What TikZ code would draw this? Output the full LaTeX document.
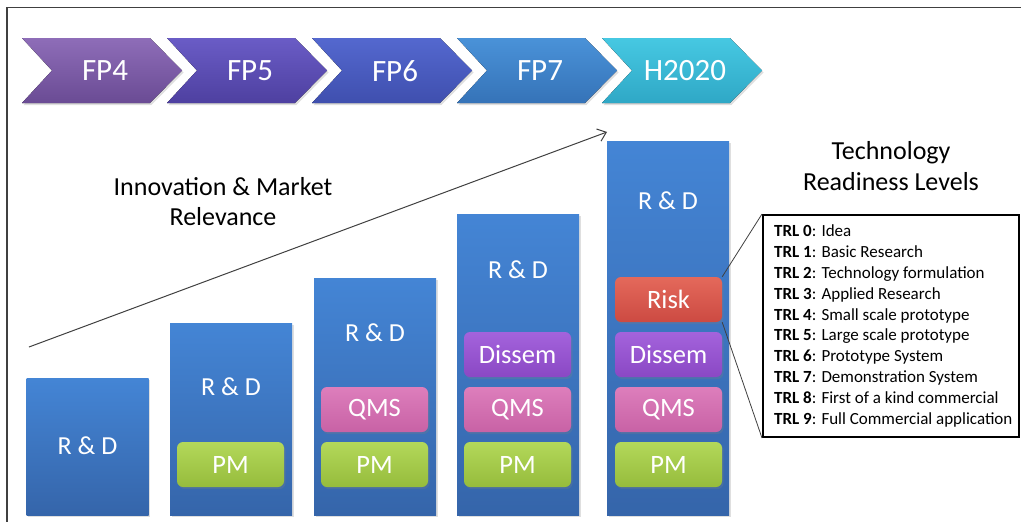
\documentclass[tikz,border=0pt]{standalone}
\usepackage{fontspec}
\setmainfont{Carlito}
\usetikzlibrary{arrows.meta,shadows,calc}
\definecolor{barT}{HTML}{4485D5}
\definecolor{barB}{HTML}{3565AA}
\definecolor{pmT}{HTML}{B3D85A}
\definecolor{pmB}{HTML}{96BC3C}
\definecolor{qmsT}{HTML}{DD7EBC}
\definecolor{qmsB}{HTML}{C862A5}
\definecolor{disT}{HTML}{A463DC}
\definecolor{disB}{HTML}{8A48C4}
\definecolor{riskT}{HTML}{E4695B}
\definecolor{riskB}{HTML}{CC4A42}
\definecolor{fpaT}{HTML}{8E6DB8}
\definecolor{fpaB}{HTML}{6A4B94}
\definecolor{fpbT}{HTML}{6A5CC6}
\definecolor{fpbB}{HTML}{4E40A0}
\definecolor{fpcT}{HTML}{5468CF}
\definecolor{fpcB}{HTML}{3F4FAE}
\definecolor{fpdT}{HTML}{4A92D8}
\definecolor{fpdB}{HTML}{3573B8}
\definecolor{fpeT}{HTML}{46C8E2}
\definecolor{fpeB}{HTML}{2FA8C6}
\definecolor{lineC}{HTML}{404040}
\newcommand{\chevshape}[6]{%
  \fill[top color=#4, bottom color=#5, softshadow]
    (#1,38) -- ({#1+128},38) -- ({#1+160},70.5) -- ({#1+128},103) -- (#1,103) -- ({#1+30},70.5) -- cycle;
  \node[chevtext] (#2) at ({#1+83},71) {#3};%
}
\begin{document}
\begin{tikzpicture}[x=1pt,y=-1pt,
  softshadow/.style={drop shadow={opacity=0.25, shadow xshift=1.5pt, shadow yshift=-2pt}},
  chevtext/.style={text=white, font=\fontsize{31}{34}\selectfont, inner sep=0pt},
  bar/.style={rectangle, top color=barT, bottom color=barB, minimum width=122pt, inner sep=0pt, softshadow},
  barlabel/.style={text=white, font=\fontsize{26}{29}\selectfont, inner sep=0pt},
  inbox/.style={rectangle, rounded corners=6pt, minimum width=107pt, minimum height=45pt, inner sep=0pt,
    text=white, font=\fontsize{26.5}{29}\selectfont, softshadow},
  pmbox/.style={inbox, top color=pmT, bottom color=pmB},
  qmsbox/.style={inbox, top color=qmsT, bottom color=qmsB},
  disbox/.style={inbox, top color=disT, bottom color=disB},
  riskbox/.style={inbox, top color=riskT, bottom color=riskB},
  frame/.style={draw=lineC, line width=1.2pt},
  callout/.style={draw=lineC, line width=0.8pt},
  arrowline/.style={draw=lineC, line width=1pt, -{Straight Barb[length=8pt,width=13pt]}},
  trlbox/.style={rectangle, draw=black, line width=2pt, fill=white, minimum width=256pt, minimum height=222pt, inner sep=0pt},
  plaintext/.style={align=center, inner sep=0pt}
]
\useasboundingbox (0,0) rectangle (1021,522);
% frame
\coordinate (f1) at (7,522);
\coordinate (f2) at (7,7.5);
\coordinate (f3) at (1021,7.5);
\draw[frame] (f1) -- (f2) -- (f3);
% chevrons
\chevshape{22}{fp4}{FP4}{fpaT}{fpaB}{}
\chevshape{167}{fp5}{FP5}{fpbT}{fpbB}{}
\chevshape{312}{fp6}{FP6}{fpcT}{fpcB}{}
\chevshape{457}{fp7}{FP7}{fpdT}{fpdB}{}
\chevshape{602}{h2020}{H2020}{fpeT}{fpeB}{}
% bars
\node[bar, minimum height=137pt] (bar1) at (87.5,446.5) {};
\node[bar, minimum height=192pt] (bar2) at (231,419) {};
\node[bar, minimum height=237pt] (bar3) at (375,396.5) {};
\node[bar, minimum height=301pt] (bar4) at (518,364.5) {};
\node[bar, minimum height=374pt] (bar5) at (668,328) {};
% R&D labels
\node[barlabel] (rd1) at (87.5,446) {R \& D};
\node[barlabel] (rd2) at (231,387) {R \& D};
\node[barlabel] (rd3) at (375,333) {R \& D};
\node[barlabel] (rd4) at (518,270) {R \& D};
\node[barlabel] (rd5) at (668,201) {R \& D};
% inner boxes
\node[pmbox] (pm2) at (230.5,464.5) {PM};
\node[pmbox] (pm3) at (374.5,464.5) {PM};
\node[qmsbox] (qms3) at (374.5,409.5) {QMS};
\node[pmbox] (pm4) at (517.5,464.5) {PM};
\node[qmsbox] (qms4) at (517.5,409.5) {QMS};
\node[disbox] (dis4) at (517.5,354.5) {Dissem};
\node[pmbox] (pm5) at (668.5,464.5) {PM};
\node[qmsbox] (qms5) at (668.5,409.5) {QMS};
\node[disbox] (dis5) at (668.5,354.5) {Dissem};
\node[riskbox] (risk) at (668.5,299.5) {Risk};
% texts
\node[plaintext, font=\fontsize{26}{30}\selectfont] (innov) at (223,202) {Innovation \& Market\\Relevance};
\node[plaintext, font=\fontsize{26}{31}\selectfont] (trltitle) at (891,166) {Technology\\Readiness Levels};
% TRL box
\node[trlbox] (trl) at (891,326) {};
\node[anchor=west, align=left, inner sep=0pt, font=\fontsize{17}{20.9}\selectfont] (trltext) at ($(trl.west)+(12,0)$)
{\textbf{TRL 0}: Idea\\
\textbf{TRL 1}: Basic Research\\
\textbf{TRL 2}: Technology formulation\\
\textbf{TRL 3}: Applied Research\\
\textbf{TRL 4}: Small scale prototype\\
\textbf{TRL 5}: Large scale prototype\\
\textbf{TRL 6}: Prototype System\\
\textbf{TRL 7}: Demonstration System\\
\textbf{TRL 8}: First of a kind commercial\\
\textbf{TRL 9}: Full Commercial application};
% callout lines
\draw[callout] (risk.north east) -- (trl.north west);
\draw[callout] (risk.south east) -- (trl.south west);
% arrow
\coordinate (arrS) at (29,347);
\coordinate (arrE) at (607,132);
\draw[arrowline] (arrS) -- (arrE);
\end{tikzpicture}
\end{document}
